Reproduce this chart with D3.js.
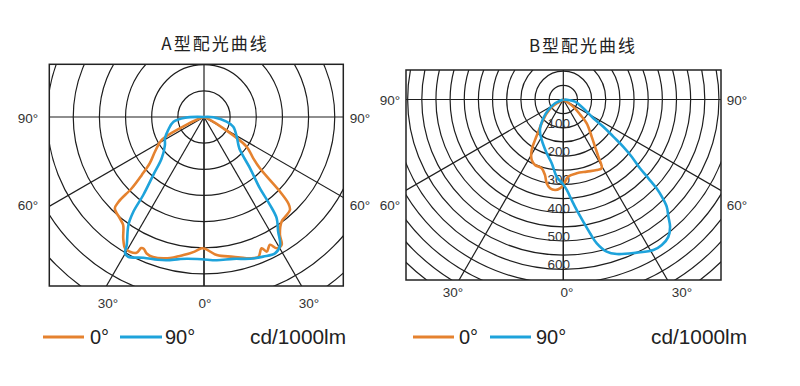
<!DOCTYPE html>
<html><head><meta charset="utf-8">
<script src="https://cdn.jsdelivr.net/npm/d3@7"></script>
<style>body{margin:0;background:#fff}svg{display:block}</style>
</head><body>
<svg id="c" width="800" height="386"></svg>
<script>
// ---------- data ----------
const titles = ["A型配光曲线", "B型配光曲线"];
const seriesNames = ["0°", "90°"];
const unitLabel = "cd/1000lm";
const radialAngles = [-60, -30, 0, 30, 60];
const valueTicksB = [100, 200, 300, 400, 500, 600];
const ringStep = 50;

// [angle from nadir (deg), intensity (cd/1000lm)]
const curveA0 = [[-90,0],[-72,8],[-65,51],[-61.5,92],[-54.7,115],[-49.6,136],[-47,163],[-45.4,194],[-45.2,230],[-44.3,244],[-39.7,252],[-36.8,258],[-33.6,279],[-31,293],[-28.8,294],[-26.4,290],[-25.6,278],[-24.6,277],[-22.8,283],[-20,285],[-14.5,279],[-8.5,267],[-4,258],[-1,251],[0.5,252],[5.3,265],[11.8,273],[16.8,282],[21.2,287],[23.7,274],[25,284],[27.3,275],[29,287],[31.3,286],[32.8,268],[36.6,249],[39.1,246],[42.8,242],[44.3,231],[45.5,204],[46.3,174],[47.5,145],[50,123],[55.2,99],[59.7,43],[66,8],[90,0]];
const curveA90 = [[-90,0],[-88,36],[-81.3,59],[-70,73],[-61.4,85],[-54.3,92],[-45.7,113],[-41.2,147],[-37.9,189],[-36.7,226],[-35,252],[-31.1,286],[-30.1,301],[-28.5,304],[-23.3,293],[-18,287],[-14.6,283],[-10,276],[-6.9,273],[-0.9,272],[5.1,275],[11.7,277],[18,285],[23,290],[27.5,294],[30.7,285],[32.9,261],[35.7,238],[36.9,210],[38.1,173],[41.9,132],[47.5,93],[50.8,85],[59,73],[71.7,59],[78.3,44],[88,18],[90,0]];
const curveB0 = [[-90,0],[-57.7,43],[-50.3,76],[-42.2,114],[-37.8,144],[-34.9,175],[-32,211],[-27.6,241],[-23.4,252],[-17.4,255],[-13.6,275],[-11.2,302],[-8.5,317],[-5.2,321],[-2.1,314],[0,302],[3.7,273],[10.3,265],[18,268],[25.3,276],[29.2,278],[31.5,237],[33.9,201],[37.4,165],[44.5,118],[48,81],[54.2,43],[90,0]];
const curveB90 = [[-90,0],[-65.4,32],[-55,65],[-46.8,97],[-37.4,136],[-28.1,162],[-17.1,199],[-10.3,229],[-4.9,274],[0,300],[2.2,320],[4.8,357],[6.9,393],[9.3,438],[11.3,482],[13.1,522],[15.9,559],[19.1,578],[25.6,600],[30.9,620],[34.1,621],[37.4,611],[40,587],[41.9,556],[44,526],[45.4,489],[46.4,455],[47.2,410],[48.1,364],[50.1,315],[51.8,270],[53.4,220],[55.8,171],[58.1,125],[66.3,77],[79.4,42],[90,3]];

// ---------- layout ----------
const colors = ["#e5822f", "#1ea3db"];
const latin = "'Liberation Sans', Arial, sans-serif";
const cjk = "'Noto Sans CJK SC', sans-serif";

const panels = [
  { title: titles[0], titleX: 215, titleY: 50, series: [curveA0, curveA90],
    box: [49.3, 64.3, 343.3, 286], c: [204, 117], stepPx: 26.15, nRings: 9,
    labels: [["90°",28,118],["90°",360,118],["60°",28,205],["60°",360,205],["30°",108,303],["0°",205,303],["30°",309,303]],
    valueTicks: [],
    legend: { y: 337, o: [43, 84], ot: 90, b: [120, 162], bt: 165, u: 250 } },
  { title: titles[1], titleX: 583, titleY: 52, series: [curveB0, curveB90],
    box: [406, 70, 721, 280], c: [563.3, 99.5], stepPx: 14.15, nRings: 17,
    labels: [["90°",390,100],["90°",737,100.5],["60°",390,205],["60°",737,205],["30°",453,292],["0°",567,292],["30°",682,292]],
    valueTicks: valueTicksB,
    legend: { y: 337, o: [413, 454], ot: 459, b: [490, 531], bt: 536, u: 651 } }
];

const svg = d3.select("#c");
const defs = svg.append("defs");

panels.forEach((p, i) => {
  const [x0, y0, x1, y1] = p.box;
  const [cx, cy] = p.c;
  const r = d3.scaleLinear().domain([0, ringStep]).range([0, p.stepPx]);

  defs.append("clipPath").attr("id", "clip" + i)
    .append("rect").attr("x", x0).attr("y", y0).attr("width", x1 - x0).attr("height", y1 - y0);

  svg.append("text").attr("x", p.titleX).attr("y", p.titleY)
    .attr("text-anchor", "middle").attr("font-family", cjk).attr("font-size", 17)
    .attr("letter-spacing", 2).attr("fill", "#222").text(p.title);

  const g = svg.append("g").attr("clip-path", `url(#clip${i})`);
  const grid = g.append("g").attr("stroke", "#1e1e1e").attr("stroke-width", 1.2).attr("fill", "none");
  grid.selectAll("circle").data(d3.range(1, p.nRings + 1)).join("circle")
    .attr("cx", cx).attr("cy", cy).attr("r", k => r(k * ringStep));
  const R = 1000;
  grid.selectAll("line.rad").data(radialAngles).join("line").attr("class", "rad")
    .attr("x1", cx).attr("y1", cy)
    .attr("x2", a => cx + R * Math.sin(a * Math.PI / 180))
    .attr("y2", a => cy + R * Math.cos(a * Math.PI / 180));
  grid.append("line").attr("x1", x0).attr("x2", x1).attr("y1", cy).attr("y2", cy);
  grid.append("line").attr("x1", cx).attr("x2", cx).attr("y1", y0).attr("y2", y1);

  // value labels
  g.selectAll("text.val").data(p.valueTicks).join("text").attr("class", "val")
    .attr("x", cx - 4.5).attr("y", v => cy + r(v))
    .attr("text-anchor", "middle").attr("font-family", latin).attr("font-size", 13.5)
    .attr("fill", "#333").text(v => v);

  const line = d3.lineRadial()
    .angle(d => Math.PI - d[0] * Math.PI / 180)
    .radius(d => r(d[1]))
    .curve(d3.curveCatmullRom.alpha(0.5));
  const cg = g.append("g").attr("transform", `translate(${cx},${cy})`);
  p.series.forEach((s, j) => {
    cg.append("path").attr("d", line(s)).attr("fill", "none")
      .attr("stroke", colors[j]).attr("stroke-width", 2.6).attr("stroke-linejoin", "round");
  });

  svg.append("rect").attr("x", x0).attr("y", y0).attr("width", x1 - x0).attr("height", y1 - y0)
    .attr("fill", "none").attr("stroke", "#222").attr("stroke-width", 1.5);

  svg.selectAll(null).data(p.labels).join("text")
    .attr("x", d => d[1]).attr("y", d => d[2]).attr("dy", "0.35em")
    .attr("text-anchor", "middle").attr("font-family", latin).attr("font-size", 13.5)
    .attr("fill", "#333").text(d => d[0]);

  // legend
  const L = p.legend;
  [[L.o, L.ot], [L.b, L.bt]].forEach(([seg, tx], j) => {
    svg.append("line").attr("x1", seg[0]).attr("x2", seg[1]).attr("y1", L.y).attr("y2", L.y)
      .attr("stroke", colors[j]).attr("stroke-width", 3);
    svg.append("text").attr("x", tx).attr("y", L.y).attr("dy", "0.36em")
      .attr("font-family", latin).attr("font-size", 20).attr("fill", "#222").text(seriesNames[j]);
  });
  svg.append("text").attr("x", L.u).attr("y", L.y).attr("dy", "0.36em")
    .attr("font-family", latin).attr("font-size", 20).attr("fill", "#222")
    .attr("textLength", 96).attr("lengthAdjust", "spacingAndGlyphs").text(unitLabel);
});
</script>
</body></html>
